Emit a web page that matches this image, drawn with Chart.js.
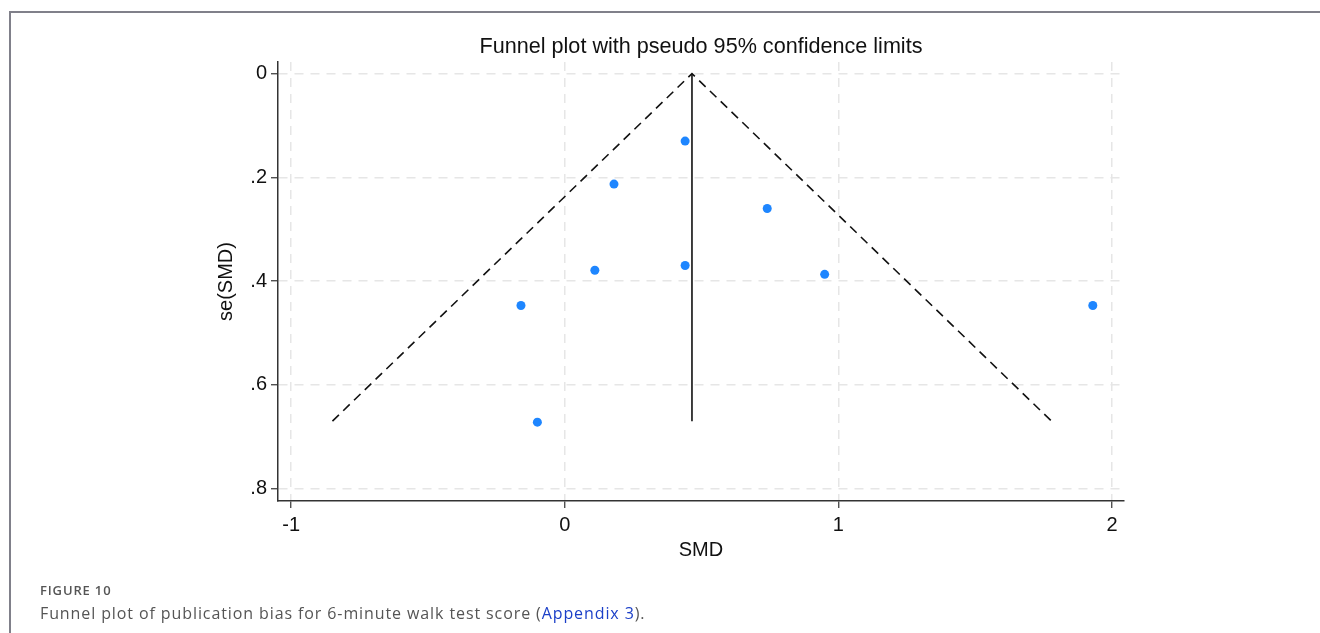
<!DOCTYPE html>
<html>
<head>
<meta charset="utf-8">
<script src="https://cdn.jsdelivr.net/npm/chart.js@4"></script>
<style>
  html, body { margin: 0; padding: 0; background: #fff; }
  #wrap { position: relative; width: 1320px; height: 633px; overflow: hidden; }
  #frame { position: absolute; left: 9px; top: 11px; width: 1320px; height: 640px;
           border-left: 2px solid #80808a; border-top: 2px solid #80808a; }
  canvas { position: absolute; left: 0; top: 0; }
  .cap { position: absolute; left: 40px; font-family: "Open Sans", sans-serif; color: #555; white-space: nowrap; }
  #fig { top: 581px; font-size: 13px; font-weight: 600; letter-spacing: 0.85px; }
  #desc { top: 602px; font-size: 16px; letter-spacing: 0.9px; }
  #desc a { color: #1b3fc8; text-decoration: none; }
</style>
</head>
<body>
<div id="wrap">
  <div id="frame"></div>
  <canvas id="funnel" width="1320" height="633"></canvas>
  <div class="cap" id="fig">FIGURE 10</div>
  <div class="cap" id="desc">Funnel plot of publication bias for 6-minute walk test score (<a>Appendix 3</a>).</div>
</div>
<script>
// Data
const studySmd = [0.44, 0.18, 0.74, 0.11, 0.44, 0.95, -0.16, 1.93, -0.10];
const studySe = [0.130, 0.213, 0.260, 0.379, 0.370, 0.387, 0.447, 0.447, 0.672];

// pseudo 95% limits (left end, apex, right end) and pooled line
const limitSmd = [-0.849, 0.465, 1.779];
const limitSe = [0.670, 0, 0.670];
const pooledSmd = [0.465, 0.465];
const pooledSe = [0, 0.670];

const xTicks = [-1, 0, 1, 2];
const yTicks = [0, 0.2, 0.4, 0.6, 0.8];
const yTickLabels = ['0', '.2', '.4', '.6', '.8'];

const pts = (xs, ys) => xs.map((x, i) => ({ x: x, y: ys[i] }));

const gridOpts = {
  color: '#e6e6e6',
  lineWidth: 1.5,
  tickColor: '#333',
  tickWidth: 1.2,
  tickLength: 7,
  tickBorderDash: []
};
const borderOpts = { color: '#333', width: 1.5, dash: [9, 7] };
const tickFont = { family: '"Liberation Sans", Arial, sans-serif', size: 20 };

new Chart(document.getElementById('funnel'), {
  type: 'scatter',
  data: {
    datasets: [
      {
        label: 'studies',
        data: pts(studySmd, studySe),
        backgroundColor: '#1e86ff',
        borderWidth: 0,
        pointRadius: 4.5,
        order: 0
      },
      {
        label: 'limits',
        data: pts(limitSmd, limitSe),
        showLine: true,
        borderColor: '#111',
        borderWidth: 1.6,
        borderDash: [9, 6],
        pointRadius: 0,
        order: 1
      },
      {
        label: 'pooled',
        data: pts(pooledSmd, pooledSe),
        showLine: true,
        borderColor: '#111',
        borderWidth: 1.6,
        pointRadius: 0,
        order: 1
      }
    ]
  },
  options: {
    responsive: false,
    animation: false,
    devicePixelRatio: 1,
    layout: { padding: { left: 205, right: 196, top: 0, bottom: 71 } },
    plugins: {
      legend: { display: false },
      tooltip: { enabled: false },
      title: {
        display: true,
        fullSize: false,
        text: 'Funnel plot with pseudo 95% confidence limits',
        color: '#111',
        font: { family: '"Liberation Sans", Arial, sans-serif', size: 21.6, weight: 'normal' },
        padding: { top: 34, bottom: 2.1 }
      }
    },
    scales: {
      x: {
        type: 'linear',
        min: -1.048,
        max: 2.044,
        afterBuildTicks: (s) => { s.ticks = xTicks.map(v => ({ value: v })); },
        afterFit: (s) => { s.height = 61; },
        grid: gridOpts,
        border: borderOpts,
        ticks: { color: '#111', font: tickFont, padding: 5, callback: (v) => String(v) },
        title: {
          display: true,
          text: 'SMD',
          color: '#111',
          font: tickFont,
          padding: { top: 0, bottom: 0 }
        }
      },
      y: {
        type: 'linear',
        reverse: true,
        min: -0.0224,
        max: 0.824,
        afterBuildTicks: (s) => { s.ticks = yTicks.map(v => ({ value: v })); },
        afterFit: (s) => { s.width = 73; },
        grid: gridOpts,
        border: borderOpts,
        ticks: {
          color: '#111',
          font: tickFont,
          padding: 4,
          callback: (v) => yTickLabels[yTicks.indexOf(v)]
        },
        title: {
          display: true,
          text: 'se(SMD)',
          color: '#111',
          font: tickFont,
          padding: { top: 9, bottom: 0 }
        }
      }
    }
  }
});
</script>
</body>
</html>
